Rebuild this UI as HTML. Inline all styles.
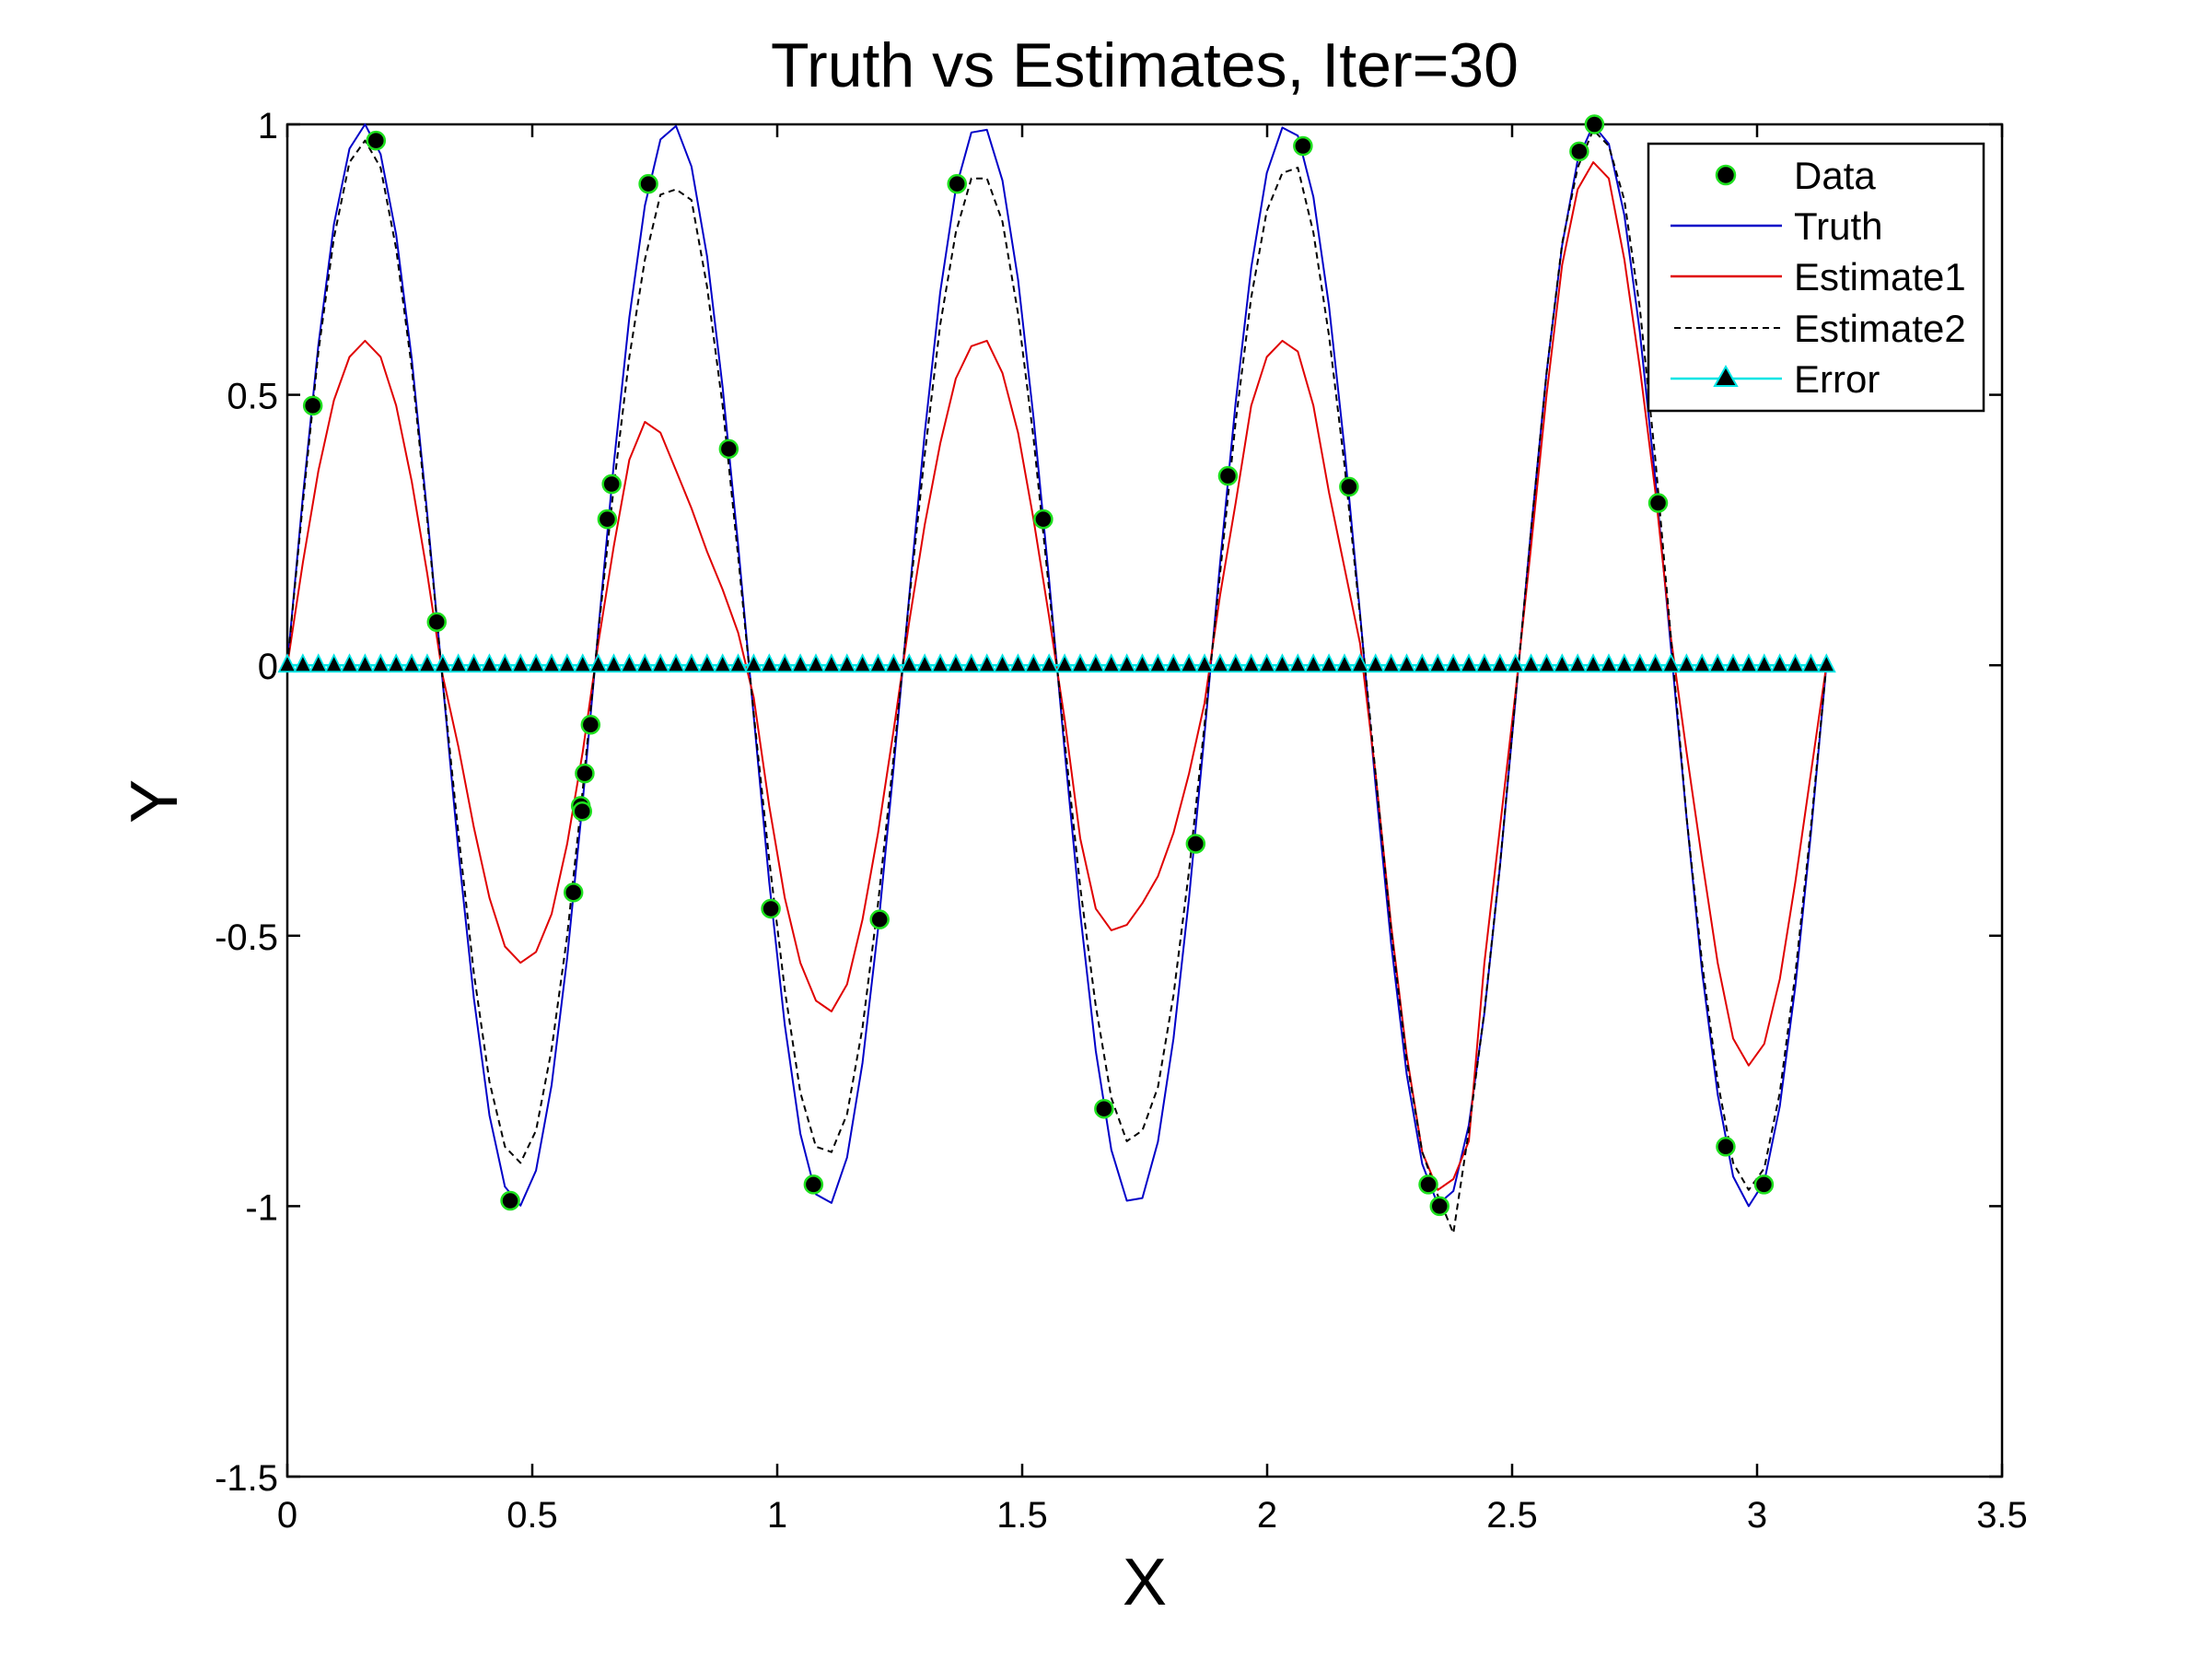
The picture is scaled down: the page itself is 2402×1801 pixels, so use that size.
<!DOCTYPE html>
<html><head><meta charset="utf-8"><style>
html,body{margin:0;padding:0;background:#fff;}
svg{display:block;font-family:"Liberation Sans",Arial,sans-serif;}
</style></head><body>
<svg id="chart" width="2402" height="1801" viewBox="0 0 2402 1801" xmlns="http://www.w3.org/2000/svg">
<rect x="0" y="0" width="2402" height="1801" fill="#fff"/>
<text x="1243" y="94" font-size="68" text-anchor="middle">Truth vs Estimates, Iter=30</text>
<text x="1243" y="1742" font-size="72" text-anchor="middle">X</text>
<text x="0" y="0" font-size="72" text-anchor="middle" transform="translate(192,870) rotate(-90)">Y</text>
<g id="plot"></g>
<g id="legend">
<rect x="1790" y="156" width="364" height="290" fill="#fff" stroke="#000" stroke-width="2.5"/>
<circle cx="1874" cy="190" r="10" fill="#000" stroke="#1ee01e" stroke-width="2.5"/>
<text x="1948" y="205" font-size="42">Data</text>
<line x1="1814" y1="245" x2="1935" y2="245" stroke="#0000c8" stroke-width="2.5"/>
<text x="1948" y="260" font-size="42">Truth</text>
<line x1="1814" y1="300" x2="1935" y2="300" stroke="#e00000" stroke-width="2.5"/>
<text x="1948" y="315" font-size="42">Estimate1</text>
<line x1="1818" y1="356" x2="1935" y2="356" stroke="#000" stroke-width="2" stroke-dasharray="7,5"/>
<text x="1948" y="371" font-size="42">Estimate2</text>
<line x1="1814" y1="411" x2="1935" y2="411" stroke="#00e5e5" stroke-width="2.5"/>
<polygon points="1874,398 1862,419 1886,419" fill="#000" stroke="#00e5e5" stroke-width="2"/>
<text x="1948" y="426" font-size="42">Error</text>
</g>
</svg>
<script>
const xTicks = [0,0.5,1,1.5,2,2.5,3,3.5];
const yTicks = [-1.5,-1,-0.5,0,0.5,1];
const xTickLabels = ["0","0.5","1","1.5","2","2.5","3","3.5"];
const yTickLabels = ["-1.5","-1","-0.5","0","0.5","1"];
const truth = [0,.312,.593,.815,.955,1,.945,.796,.567,.281,
-.032,-.342,-.616,-.832,-.964,-.999,-.934,-.776,-.541,-.251,
.063,.372,.643,.850,.972,.997,.922,.756,.514,.221,
-.095,-.401,-.665,-.866,-.978,-.994,-.910,-.735,-.487,-.189,
.127,.430,.690,.881,.985,.990,.896,.713,.458,.158,
-.158,-.458,-.713,-.896,-.990,-.985,-.881,-.690,-.430,-.127,
.189,.486,.735,.910,.994,.979,.866,.665,.401,.095,
-.221,-.514,-.756,-.922,-.997,-.972,-.850,-.643,-.372,-.063,
.251,.541,.776,.934,.999,.964,.832,.616,.342,.032,
-.281,-.567,-.793,-.945,-1,-.955,-.815,-.593,-.312,0];
const estimate1 = [0,.19,.36,.49,.57,.60,.57,.48,.34,.17,
-.02,-.15,-.30,-.43,-.52,-.55,-.53,-.46,-.33,-.16,
.04,.22,.38,.45,.43,.36,.29,.21,.14,.06,
-.06,-.26,-.43,-.55,-.62,-.64,-.59,-.47,-.31,-.12,
.08,.26,.41,.53,.59,.60,.54,.43,.27,.09,
-.10,-.32,-.45,-.49,-.48,-.44,-.39,-.31,-.20,-.07,
.13,.30,.48,.57,.60,.58,.48,.32,.18,.04,
-.20,-.48,-.72,-.90,-.97,-.95,-.88,-.55,-.30,-.05,
.22,.50,.74,.88,.93,.90,.75,.55,.32,.05,
-.16,-.36,-.55,-.69,-.74,-.70,-.58,-.40,-.20,0];
const estimate2 = [0,.30,.58,.79,.93,.97,.92,.77,.55,.27,
-.03,-.31,-.57,-.77,-.89,-.92,-.86,-.71,-.50,-.23,
.06,.33,.57,.75,.87,.88,.86,.70,.48,.20,
-.09,-.36,-.60,-.79,-.89,-.90,-.83,-.67,-.44,-.17,
.12,.39,.63,.80,.90,.90,.82,.65,.42,.14,
-.14,-.41,-.63,-.80,-.88,-.86,-.78,-.61,-.38,-.11,
.17,.45,.68,.84,.91,.92,.80,.61,.37,.09,
-.20,-.49,-.73,-.90,-.98,-1.05,-.86,-.64,-.37,-.06,
.25,.54,.78,.92,.99,.96,.86,.66,.38,.05,
-.28,-.55,-.77,-.92,-.97,-.93,-.79,-.57,-.30,0];
const errorVals = new Array(100).fill(0);
const dataX = [.052,.181,.305,.455,.584,.599,.602,.607,.619,.653,.662,.737,.901,.987,1.074,1.209,1.367,1.543,1.667,1.854,1.920,2.073,2.167,2.329,2.352,2.637,2.668,2.798,2.936,3.014];
const dataY = [.48,.97,.08,-.99,-.42,-.26,-.27,-.20,-.11,.27,.335,.89,.40,-.45,-.96,-.47,.89,.27,-.82,-.33,.35,.96,.33,-.96,-1.0,.95,1.0,.30,-.89,-.96];

const NS="http://www.w3.org/2000/svg";
const X0=312,X1=2174,YT=135,YB=1603;
const sx=v=>X0+(v-0)/3.5*(X1-X0);
const sy=v=>YB-(v+1.5)/2.5*(YB-YT);
const xs=i=>sx(Math.PI*i/99);
const plot=document.getElementById('plot');
function mk(tag,attrs,parent){const e=document.createElementNS(NS,tag);for(const k in attrs)e.setAttribute(k,attrs[k]);(parent||plot).appendChild(e);return e;}

const frame=mk('rect',{x:X0,y:YT,width:X1-X0,height:YB-YT,fill:'none',stroke:'#000','stroke-width':2.5});


xTicks.forEach((t,i)=>{
  const x=sx(t);
  const a=mk('line',{x1:x,y1:YB,x2:x,y2:YB-14,stroke:'#000','stroke-width':2.5});
  
  
  const b=mk('line',{x1:x,y1:YT,x2:x,y2:YT+14,stroke:'#000','stroke-width':2.5});
  
  
  const l=mk('text',{x:x,y:YB+55,'font-size':40,'text-anchor':'middle'});
  l.textContent=xTickLabels[i];
  
  
});
yTicks.forEach((t,i)=>{
  const y=sy(t);
  const a=mk('line',{x1:X0,y1:y,x2:X0+14,y2:y,stroke:'#000','stroke-width':2.5});
  
  
  const b=mk('line',{x1:X1,y1:y,x2:X1-14,y2:y,stroke:'#000','stroke-width':2.5});
  
  
  const l=mk('text',{x:X0-10,y:y+15,'font-size':40,'text-anchor':'end'});
  l.textContent=yTickLabels[i];
  
  
});
function line(vals,color,w,dash,name){
  const p=vals.map((v,i)=>xs(i).toFixed(1)+','+sy(v).toFixed(1)).join(' ');
  const attrs={points:p,fill:'none',stroke:color,'stroke-width':w,'stroke-linejoin':'round'};
  if(dash)attrs['stroke-dasharray']=dash;
  const e=mk('polyline',attrs);
  
  
}
line(truth,'#0000c8',2,null,'truth-line');
line(estimate1,'#e00000',2,null,'estimate1-line');
line(estimate2,'#000',2,'7,5','estimate2-line');
line(errorVals,'#00e5e5',2.5,null,'error-line');
errorVals.forEach((v,i)=>{
  const x=xs(i),y=sy(v);
  const t=mk('polygon',{points:`${x},${y-11} ${x-9},${y+7} ${x+9},${y+7}`,fill:'#000',stroke:'#00e5e5','stroke-width':1.8});
  
  
});
dataX.forEach((dx,i)=>{
  const c=mk('circle',{cx:sx(dx),cy:sy(dataY[i]),r:9.5,fill:'#000',stroke:'#1ee01e','stroke-width':2.5});
  
  
});
</script>
</body></html>
